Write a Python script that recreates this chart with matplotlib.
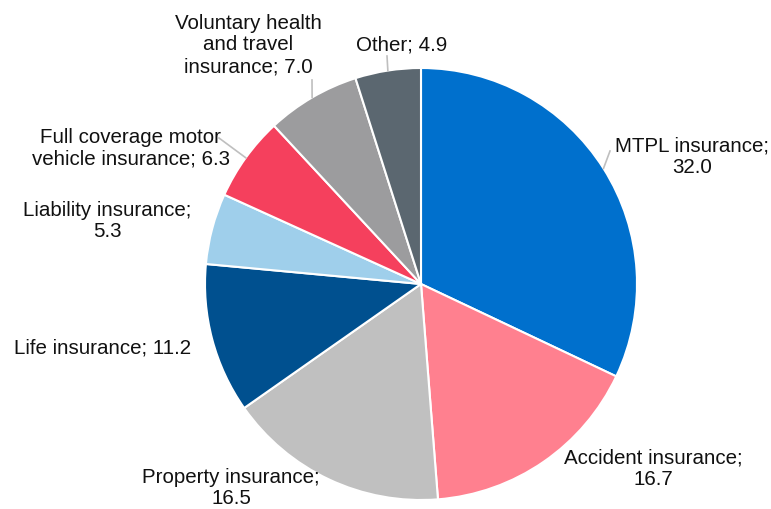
import numpy as np
import matplotlib
matplotlib.use("Agg")
import matplotlib.pyplot as plt

plt.rcParams["font.family"] = ["Liberation Sans", "DejaVu Sans"]

# Shares of gross written premiums (%), clockwise from 12 o'clock
categories = [
    "MTPL insurance;\n32.0",
    "Accident insurance;\n16.7",
    "Property insurance;\n16.5",
    "Life insurance; 11.2",
    "Liability insurance;\n5.3",
    "Full coverage motor\nvehicle insurance; 6.3",
    "Voluntary health\nand travel\ninsurance; 7.0",
    "Other; 4.9",
]
values = [32.0, 16.7, 16.5, 11.2, 5.3, 6.3, 7.0, 4.9]
colors = ["#0070CD", "#FF808F", "#C0C0C0", "#00508F", "#9FCFEB",
          "#F5405D", "#9C9C9E", "#5B6770"]

# label centres in pixel coords (x, y from top)
label_pos = [(692, 157), (653, 469), (231, 488), (103, 348),
             (107, 221), (131, 148), (248, 45), (402, 45)]
# which labels get a leader line, and where it ends (pixel coords)
leader_end = {0: (610, 152), 5: (219, 139), 6: (312, 81), 7: (387, 57)}

W, H = 771, 510
CX, CY, R = 421, 285, 216

fig = plt.figure(figsize=(W / 100, H / 100), dpi=100)
ax = fig.add_axes([0, 0, 1, 1])
ax.axis("off")

wedges, _ = ax.pie(values, colors=colors, startangle=90, counterclock=False,
                   center=(CX, H - CY), radius=R,
                   wedgeprops=dict(edgecolor="white", linewidth=1.5))
ax.set_xlim(0, W)
ax.set_ylim(0, H)
ax.set_aspect("equal")

for i, (w, lab) in enumerate(zip(wedges, categories)):
    lx, ly = label_pos[i]
    ax.text(lx, H - ly, lab, ha="center", va="center", fontsize=14.8,
            color="#111111", linespacing=1.17)
    if i in leader_end:
        ang = np.deg2rad((w.theta1 + w.theta2) / 2)
        x0 = CX + R * np.cos(ang)
        y0 = (H - CY) + R * np.sin(ang)
        ex, ey = leader_end[i]
        ax.plot([x0, ex], [y0, H - ey], color="#BFBFBF", linewidth=1.2)

fig.savefig("out.png", dpi=100)
